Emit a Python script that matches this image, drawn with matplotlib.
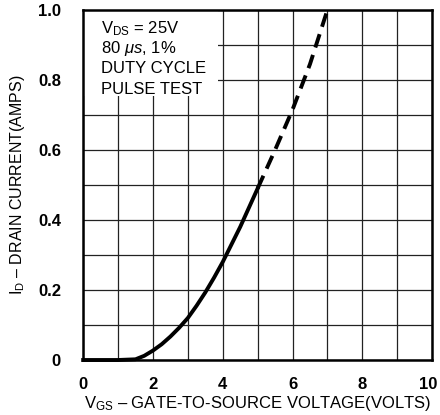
import numpy as np
import matplotlib.pyplot as plt
from matplotlib.patches import Rectangle
from matplotlib.transforms import ScaledTranslation

plt.rcParams['font.family'] = ['Liberation Sans', 'DejaVu Sans']
plt.rcParams['mathtext.fontset'] = 'custom'
plt.rcParams['mathtext.rm'] = 'Liberation Sans'
plt.rcParams['mathtext.it'] = 'Liberation Sans:italic'

# measured part of the transfer curve (solid)
vgs_solid = [0.0, 1.0, 1.5, 1.75, 2.0, 2.25, 2.5, 2.75, 3.0, 3.25, 3.5,
             3.75, 4.0, 4.25, 4.5, 4.75, 5.0]
id_solid = [0.0, 0.0, 0.002, 0.012, 0.027, 0.045, 0.067, 0.092, 0.12,
            0.155, 0.193, 0.235, 0.28, 0.33, 0.38, 0.435, 0.49]

# extrapolated part (dashed)
vgs_dash = [5.0, 5.5, 6.0, 6.5, 7.0]
id_dash = [0.49, 0.6, 0.715, 0.845, 1.0]

x_ticks = [0, 2, 4, 6, 8, 10]
y_ticks = [0, 0.2, 0.4, 0.6, 0.8, 1.0]
y_tick_labels = ['0', '0.2', '0.4', '0.6', '0.8', '1.0']

conditions = ['$\\mathregular{V_{DS}}$ = 25V', '80 $\\mathit{\\mu s}$, 1%', 'DUTY CYCLE', 'PULSE TEST']

fig = plt.figure(figsize=(4.4, 4.15), dpi=100)
ax = fig.add_axes([0.189, 0.1325, 0.793, 0.8435])

ax.set_xlim(0, 10)
ax.set_ylim(0, 1.0)
ax.set_xticks(x_ticks)
ax.set_yticks(y_ticks)
ax.set_yticklabels(y_tick_labels)
ax.set_xticks(np.arange(0, 11, 1), minor=True)
ax.set_yticks(np.arange(0, 1.01, 0.1), minor=True)
ax.grid(which='both', color='#222222', linewidth=0.9)
ax.tick_params(which='both', length=0)
ax.tick_params(axis='x', pad=12, labelsize=12)
ax.tick_params(axis='y', pad=16, labelsize=12)
for lab in ax.get_xticklabels() + ax.get_yticklabels():
    lab.set_fontweight('bold')
# keep the last x label inside the figure
last = ax.get_xticklabels()[-1]
last.set_transform(last.get_transform() + ScaledTranslation(-4 / 100, 0, fig.dpi_scale_trans))
for s in ax.spines.values():
    s.set_linewidth(1.8)
    s.set_zorder(5)

# white panel behind the test conditions
ax.add_patch(Rectangle((0, 0.755), 3.87, 0.245, facecolor='white',
                       edgecolor='none', zorder=2))

ax.plot(vgs_solid, id_solid, color='black', linewidth=2.8,
        solid_joinstyle='round', zorder=4, clip_on=False)
ax.plot(vgs_dash, id_dash, color='black', linewidth=2.8,
        dashes=(3.6, 2.0), zorder=4, clip_on=False)

for i, t in enumerate(conditions):
    ax.text(0.5, 0.948 - i * 0.058, t, fontsize=12, va='center',
            ha='left', zorder=3)

ax.set_xlabel('$\\mathregular{V_{GS}}$ \u2013 GATE-TO-SOURCE VOLTAGE(VOLTS)',
              fontsize=12, labelpad=2)
ax.set_ylabel('$\\mathregular{I_{D}}$ \u2013 DRAIN CURRENT(AMPS)',
              fontsize=11.5, labelpad=8)

fig.savefig('out.png', dpi=100)
